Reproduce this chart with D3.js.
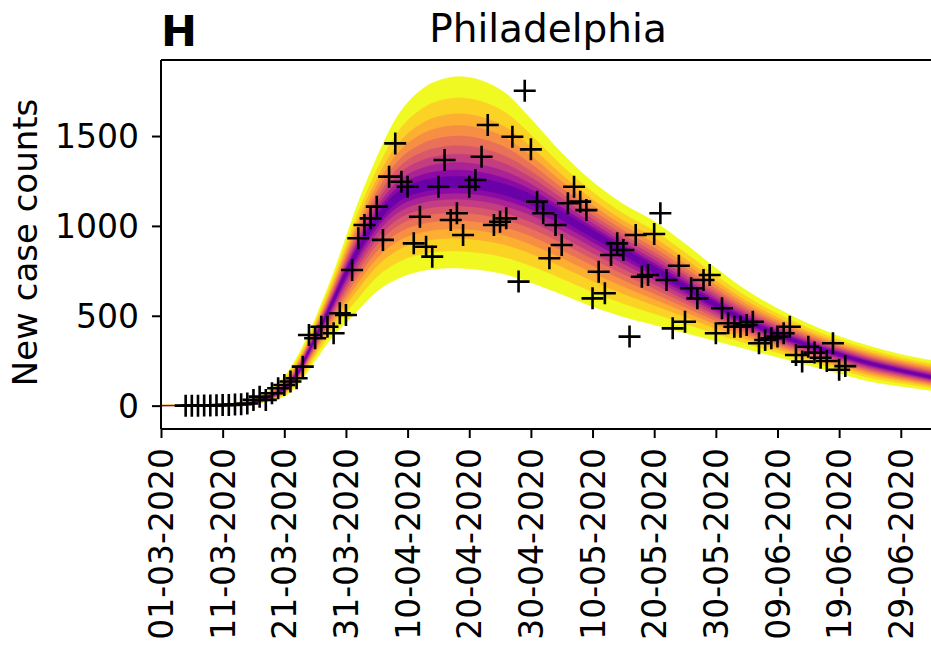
<!DOCTYPE html>
<html>
<head>
<meta charset="utf-8">
<script src="https://cdn.jsdelivr.net/npm/d3@7"></script>
<style>
  html, body { margin: 0; padding: 0; background: #fff; }
  svg { display: block; }
  text { font-family: "DejaVu Sans", sans-serif; fill: #000; }
</style>
</head>
<body>
<svg id="chart" width="931" height="647"></svg>
<script>
// ---------------- DATA ----------------
const panelLetter = "H";
const cityTitle = "Philadelphia";
const yAxisLabel = "New case counts";

// x tick labels (dd-mm-yyyy)
const xTickLabels = ["01-03-2020","11-03-2020","21-03-2020","31-03-2020","10-04-2020","20-04-2020",
  "30-04-2020","10-05-2020","20-05-2020","30-05-2020","09-06-2020","19-06-2020","29-06-2020"];
const yTickValues = [0, 500, 1000, 1500];

// observed daily new cases, first observation on 05-03-2020
const caseStart = "05-03-2020";
const caseCounts = [
  0,0,0,1,1,2,3,4,6,8,12,32,50,32,69,97,115,134,152,217,
  393,375,439,439,403,514,504,755,931,1005,1042,1107,922,1274,1459,1246,1218,903,1051,884,
  829,1218,1367,1033,1070,949,1218,1255,1385,1561,1005,1023,1042,1496,690,1752,1426,1135,1070,820,
  1005,894,1126,1218,1135,1088,597,745,625,838,903,866,384,949,717,727,955,1070,699,430,
  778,467,653,597,699,727,403,542,458,439,439,449,467,347,365,375,384,403,439,282,
  245,328,295,266,248,347,200,220
];

// model prediction band: days since 01-03-2020, median and outer (widest) quantile bounds
const bandDays   = [0, 5, 10, 15, 18, 20, 22, 24, 26, 28, 30, 32, 34, 36, 38, 40, 42, 44, 48, 52, 56, 60, 65, 70, 75, 80, 85, 90, 95, 100, 105, 110, 115, 120, 126];
const bandUpper  = [3, 4, 8, 32, 95, 160, 265, 400, 565, 740, 935, 1130, 1300, 1455, 1590, 1685, 1750, 1795, 1830, 1808, 1735, 1595, 1405, 1245, 1120, 1025, 900, 765, 640, 540, 455, 385, 330, 285, 245];
const bandMedian = [0, 1, 3, 18, 55, 95, 170, 305, 445, 590, 740, 870, 985, 1080, 1150, 1192, 1215, 1230, 1240, 1228, 1197, 1148, 1060, 960, 860, 760, 660, 560, 470, 395, 335, 285, 235, 195, 150];
const bandLower  = [0, 0, 0, 8, 28, 52, 108, 200, 300, 390, 462, 532, 605, 662, 700, 730, 748, 760, 766, 755, 730, 685, 620, 552, 495, 450, 405, 360, 315, 270, 225, 180, 135, 108, 80];
// relative half-widths of the nested credible bands (outermost first)
const bandFractions = [1, 0.80, 0.65, 0.54, 0.44, 0.35, 0.27, 0.19, 0.12, 0.06];

// ---------------- DRAW ----------------
const svg = d3.select("#chart");
const plot = { left: 161, right: 935, top: 60, bottom: 429 };

const parseDMY = d3.utcParse("%d-%m-%Y");
const t0 = parseDMY(xTickLabels[0]);
const DAY = 864e5;
const dayToDate = d => new Date(t0.getTime() + d * DAY);

const x = d3.scaleUtc()
  .domain([t0, dayToDate(125.55)])
  .range([plot.left, plot.right]);
const y = d3.scaleLinear()
  .domain([-130, 1923])
  .range([plot.bottom, plot.top]);

svg.append("defs").append("clipPath").attr("id", "clip")
  .append("rect").attr("x", plot.left).attr("y", plot.top)
  .attr("width", plot.right - plot.left).attr("height", plot.bottom - plot.top);

const gPlot = svg.append("g").attr("clip-path", "url(#clip)");

// bands
const bandRows = bandDays.map((d, i) => ({ d, up: bandUpper[i], med: bandMedian[i], lo: bandLower[i] }));
const nB = bandFractions.length;
bandFractions.forEach((f, k) => {
  const t = 1 - k * (0.8 / (nB - 1));
  const area = d3.area()
    .curve(d3.curveCatmullRom.alpha(0.5))
    .x(r => x(dayToDate(r.d)))
    .y0(r => y(r.med - f * (r.med - r.lo)))
    .y1(r => y(r.med + f * (r.up - r.med)));
  gPlot.append("path")
    .datum(bandRows)
    .attr("d", area)
    .attr("fill", d3.interpolatePlasma(t))
    .attr("stroke", d3.interpolatePlasma(t))
    .attr("stroke-width", 0.6);
});

// observations as "+" markers
const cStart = parseDMY(caseStart);
const obs = caseCounts.map((v, i) => ({ date: new Date(cStart.getTime() + i * DAY), v }));
const half = 11;
gPlot.append("g").selectAll("path")
  .data(obs).join("path")
  .attr("transform", o => `translate(${x(o.date)},${y(o.v)})`)
  .attr("d", `M${-half},0H${half}M0,${-half}V${half}`)
  .attr("stroke", "#000")
  .attr("stroke-width", 2.6)
  .attr("fill", "none");

// axes
const xTicks = xTickLabels.map(parseDMY);
const xAxis = d3.axisBottom(x)
  .tickValues(xTicks)
  .tickFormat((d, i) => xTickLabels[i])
  .tickSize(9).tickPadding(10);
const gx = svg.append("g").attr("transform", `translate(0,${plot.bottom})`).call(xAxis);
gx.select(".domain").remove();
gx.selectAll(".tick line").attr("stroke", "#000").attr("stroke-width", 2);
gx.selectAll(".tick text")
  .attr("font-size", 33)
  .attr("text-anchor", "end")
  .attr("y", 0).attr("dy", "0.35em")
  .attr("transform", "translate(0,19) rotate(-90)")
  .attr("x", 0);

const yAxis = d3.axisLeft(y).tickValues(yTickValues).tickFormat(d3.format("d")).tickSize(9).tickPadding(13);
const gy = svg.append("g").attr("transform", `translate(${plot.left},0)`).call(yAxis);
gy.select(".domain").remove();
gy.selectAll(".tick line").attr("stroke", "#000").attr("stroke-width", 2);
gy.selectAll(".tick text").attr("font-size", 33).attr("dy", "0.35em");

// spines (right spine lies outside the visible area)
const spines = svg.append("g").attr("fill", "none").attr("stroke", "#000").attr("stroke-width", 2);
spines.append("line").attr("x1", plot.left).attr("x2", plot.left).attr("y1", plot.top).attr("y2", plot.bottom);
spines.append("line").attr("x1", plot.left).attr("x2", plot.right).attr("y1", plot.bottom).attr("y2", plot.bottom);
spines.append("line").attr("x1", plot.left).attr("x2", plot.right).attr("y1", plot.top).attr("y2", plot.top);
spines.append("line").attr("x1", plot.right).attr("x2", plot.right).attr("y1", plot.top).attr("y2", plot.bottom);

// y axis label
svg.append("text")
  .attr("transform", `translate(37,${(plot.top + plot.bottom) / 2 - 2}) rotate(-90)`)
  .attr("text-anchor", "middle")
  .attr("font-size", 34)
  .text(yAxisLabel);

// title and panel letter
svg.append("text")
  .attr("x", (plot.left + plot.right) / 2).attr("y", 42)
  .attr("text-anchor", "middle")
  .attr("font-size", 39)
  .text(cityTitle);
svg.append("text")
  .attr("x", 161).attr("y", 46)
  .attr("font-size", 43)
  .attr("font-weight", "bold")
  .text(panelLetter);
</script>
</body>
</html>
